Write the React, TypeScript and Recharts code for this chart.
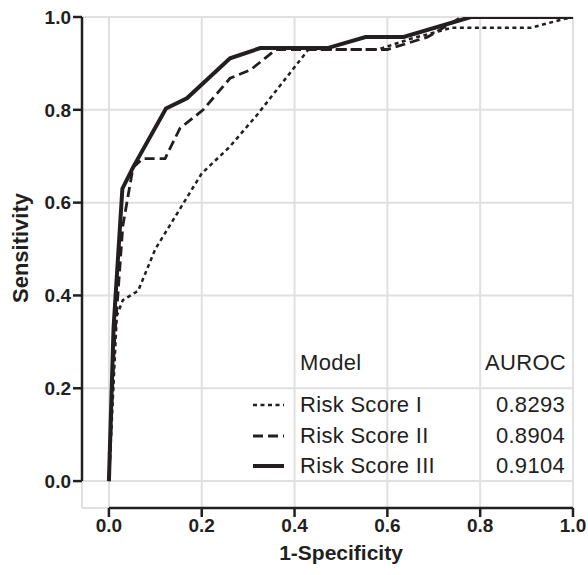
import { LineChart, Line, XAxis, YAxis, CartesianGrid, ReferenceLine } from "recharts";

const INK = "#231f20";
const GRID = "#e0e0e0";
const FONT = "Arial, 'Liberation Sans', Helvetica, sans-serif";

// 1-Specificity (x) and Sensitivity (y)
const fprI = [0, 0.017, 0.03, 0.063, 0.1, 0.2, 0.26, 0.32, 0.43, 0.58, 0.65, 0.74, 0.91, 0.97, 1];
const tprI = [0, 0.356, 0.39, 0.41, 0.5, 0.663, 0.72, 0.79, 0.93, 0.93, 0.953, 0.977, 0.977, 0.993, 1];

const fprII = [0, 0.012, 0.03, 0.052, 0.073, 0.121, 0.153, 0.203, 0.261, 0.305, 0.36, 0.6, 0.687, 0.76, 1];
const tprII = [0, 0.3, 0.55, 0.676, 0.695, 0.695, 0.76, 0.8, 0.868, 0.886, 0.93, 0.93, 0.957, 1, 1];

const fprIII = [0, 0.01, 0.029, 0.052, 0.123, 0.168, 0.261, 0.326, 0.471, 0.553, 0.635, 0.78, 1];
const tprIII = [0, 0.33, 0.63, 0.676, 0.803, 0.825, 0.911, 0.933, 0.933, 0.957, 0.957, 1, 1];

const models = ["Risk Score I", "Risk Score II", "Risk Score III"];
const auroc = ["0.8293", "0.8904", "0.9104"];
const ticks = [0, 0.2, 0.4, 0.6, 0.8, 1];
const AX_MIN = -0.058;

const toPoints = (xs: number[], ys: number[]) => xs.map((x, i) => ({ x, y: ys[i] }));

const series = [
  { name: models[0], data: toPoints(fprI, tprI), width: 2.5, dash: "4 3.5" },
  { name: models[1], data: toPoints(fprII, tprII), width: 2.8, dash: "10 5" },
  { name: models[2], data: toPoints(fprIII, tprIII), width: 4, dash: undefined },
];

const tickStyle = { fontSize: 19, fontWeight: 700, fill: INK, fontFamily: FONT };

function XTitle(props: any) {
  const vb = props.viewBox || { x: 82, width: 491, y: 508 };
  return (
    <text x={vb.x + 27 + (vb.width - 27) / 2} y={552} textAnchor="middle" dominantBaseline="central"
      style={{ fontSize: 21, fontWeight: 700, fill: INK, fontFamily: FONT }}>
      1-Specificity
    </text>
  );
}

function YTitle() {
  return (
    <text x={20} y={248} transform="rotate(-90, 20, 248)" textAnchor="middle" dominantBaseline="central"
      style={{ fontSize: 22, fontWeight: 700, fill: INK, fontFamily: FONT }}>
      Sensitivity
    </text>
  );
}

function LegendTable() {
  const rowY = [405, 436, 466];
  const txt = {
    position: "absolute" as const, fontSize: 22, letterSpacing: 0.3, color: INK, fontFamily: FONT,
    lineHeight: "30px", height: 30, whiteSpace: "nowrap" as const,
  };
  return (
    <div style={{ position: "absolute", left: 0, top: 0, width: 588, height: 575, pointerEvents: "none" }}>
      <div style={{ ...txt, left: 300, top: 363 - 15 }}>Model</div>
      <div style={{ ...txt, left: 470, width: 96, textAlign: "right", top: 363 - 15 }}>AUROC</div>
      {series.map((s, i) => (
        <div key={s.name}>
          <svg style={{ position: "absolute", left: 253, top: rowY[i] - 5 }} width={32} height={10}>
            <line x1={0} y1={5} x2={31} y2={5} stroke={INK} strokeWidth={s.width} strokeDasharray={s.dash} />
          </svg>
          <div style={{ ...txt, left: 300, top: rowY[i] - 15 }}>{s.name}</div>
          <div style={{ ...txt, left: 470, width: 95, textAlign: "right", top: rowY[i] - 15 }}>{auroc[i]}</div>
        </div>
      ))}
    </div>
  );
}

export default function App() {
  return (
    <div style={{ position: "absolute", left: 0, top: 0, width: 588, height: 575, background: "#fff" }}>
      <LineChart width={588} height={575} margin={{ top: 17, right: 15, bottom: 0, left: 0 }}>
        <CartesianGrid stroke={GRID} strokeWidth={2} />
        <XAxis
          type="number"
          dataKey="x"
          domain={[AX_MIN, 1]}
          ticks={ticks}
          allowDataOverflow
          height={67}
          axisLine={false}
          tickLine={{ stroke: INK, strokeWidth: 2.5 }}
          tickSize={9}
          tick={tickStyle}
          tickFormatter={(v: number) => v.toFixed(1)}
          label={<XTitle />}
        />
        <YAxis
          type="number"
          dataKey="y"
          domain={[AX_MIN, 1]}
          ticks={ticks}
          allowDataOverflow
          width={82}
          axisLine={false}
          tickLine={{ stroke: INK, strokeWidth: 2.5 }}
          tickSize={9}
          tick={tickStyle}
          tickFormatter={(v: number) => v.toFixed(1)}
          label={<YTitle />}
        />
        <ReferenceLine segment={[{ x: 0, y: AX_MIN }, { x: 1, y: AX_MIN }]} stroke={INK} strokeWidth={2.5} ifOverflow="visible" />
        <ReferenceLine segment={[{ x: AX_MIN, y: 0 }, { x: AX_MIN, y: 1 }]} stroke={INK} strokeWidth={2.5} ifOverflow="visible" />
        {series.map((s) => (
          <Line
            key={s.name}
            name={s.name}
            data={s.data}
            dataKey="y"
            type="linear"
            stroke={INK}
            strokeWidth={s.width}
            strokeDasharray={s.dash}
            dot={false}
            activeDot={false}
            isAnimationActive={false}
          />
        ))}
      </LineChart>
      <LegendTable />
    </div>
  );
}
